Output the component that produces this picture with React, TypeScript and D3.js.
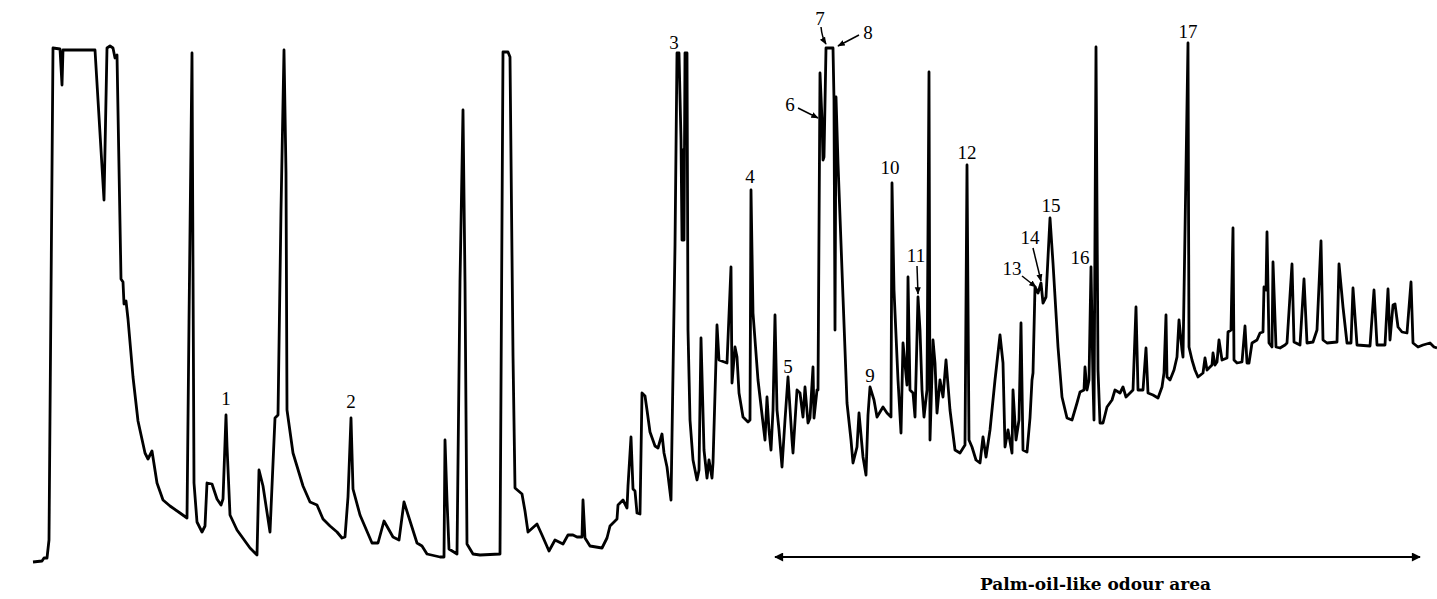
import React, { useEffect, useRef } from 'react';
import * as d3 from 'd3';

// gas chromatogram, retention in scan units, detector response in arbitrary units
const rt = [
  33, 42, 44, 47, 49, 53, 60, 62, 63, 95, 104, 107, 110, 113, 115, 117, 121, 123, 124, 126, 128, 133, 138, 145, 148, 152, 157, 163, 170, 180, 187,
  189, 192, 194, 197, 202, 205, 207, 212, 217, 221, 223, 226, 227, 230, 237, 250, 257, 259, 263, 270, 275, 278, 281, 284, 286, 287, 293, 303, 310, 317, 323, 330, 337, 342, 345,
  348, 351, 353, 360, 372, 378, 384, 393, 399, 404, 417, 422, 427, 440, 444, 445, 447, 449, 457, 460, 463, 465, 467, 473, 480, 500, 503, 508, 510, 513, 515, 522, 525, 528, 537, 542, 549, 555, 563, 568, 573, 577, 582, 583, 585, 590, 602, 607, 610, 617, 618, 623, 627, 628, 631, 633, 635, 637, 640, 642, 645, 647, 650, 655, 658, 662, 664, 667, 671,
  675, 677, 679, 681, 682, 683, 684, 685, 687, 688, 690, 693, 697, 699, 701, 704, 707, 709, 712, 713, 717, 719, 727, 731, 732, 735, 737, 739, 743, 748, 750, 751, 753, 758, 763, 765, 767, 769, 771, 773, 775, 777, 779, 782, 785, 788, 792, 793, 797, 800, 803, 805, 808, 810, 813, 814, 817, 818, 820, 822, 823, 824, 826, 833, 834, 835, 836, 838, 843, 847, 851, 853, 857, 859, 863, 866, 868, 870, 874, 877, 883, 887, 891, 892, 894, 898, 901, 903, 907, 908, 910, 913, 915, 918, 920, 922, 924, 927, 929, 930, 933, 935, 937, 940, 943, 946, 950, 955, 960, 965, 967, 969, 972, 976, 980, 983, 986, 990, 995, 1000, 1003, 1005, 1008, 1012, 1013, 1016, 1019, 1021, 1023, 1027, 1030, 1032, 1033, 1035, 1038, 1041, 1043, 1046, 1050, 1053, 1058, 1062, 1067, 1072, 1077, 1080, 1084, 1085, 1087, 1089, 1091, 1093, 1094, 1096, 1098, 1100, 1103, 1107, 1112, 1115, 1120, 1123, 1126, 1130, 1133, 1136, 1138, 1143, 1146, 1148, 1153, 1158, 1162, 1164, 1166, 1167, 1170, 1174, 1177, 1179, 1182, 1183, 1188, 1189, 1192, 1195, 1198, 1203, 1205, 1207, 1212, 1213, 1215, 1217, 1219, 1222, 1227, 1228, 1231, 1233, 1234, 1237, 1242, 1245, 1247, 1249, 1252, 1257, 1260, 1263, 1264, 1266, 1267, 1269, 1272, 1273, 1276, 1280, 1285, 1287, 1292, 1294, 1300, 1304, 1307, 1313, 1317, 1321, 1323, 1327, 1337, 1339, 1343, 1347, 1351, 1353, 1357, 1370, 1374, 1377, 1385, 1388, 1390, 1393, 1395, 1398, 1402, 1407, 1411, 1413, 1418, 1423, 1430, 1434, 1437,
];

const response = [
  38, 39, 42, 42, 60, 552, 551, 515, 550, 550, 400, 552, 554, 552, 542, 545, 321, 318, 296, 299, 281, 223, 179, 147, 141, 149, 117, 100, 94, 87, 82,
  278, 547, 117, 78, 68, 74, 117, 116, 101, 95, 101, 185, 154, 85, 70, 52, 45, 130, 114, 68, 182, 185, 390, 550, 427, 190, 147, 114, 98, 95, 81, 74, 68, 62, 63,
  103, 182, 111, 85, 57, 57, 79, 63, 60, 98, 57, 54, 46, 43, 43, 160, 100, 51, 46, 318, 490, 318, 56, 46, 45, 46, 548, 548, 543, 245, 112, 106, 89, 68, 76, 65, 49, 60, 56, 65, 65, 63, 63, 100, 62, 54, 52, 62, 74, 81, 95, 100, 92, 114, 163, 111, 109, 87, 86, 207, 204, 190, 168, 154, 152, 166, 147, 133, 100,
  354, 547, 547, 460, 360, 450, 360, 547, 547, 270, 180, 140, 120, 130, 262, 150, 122, 140, 122, 137, 275, 240, 237, 333, 217, 253, 243, 207, 183, 178, 180, 410, 287, 220, 177, 160, 203, 170, 150, 190, 285, 190, 170, 133, 180, 223, 160, 147, 210, 207, 183, 213, 177, 182, 233, 182, 210, 210, 527, 480, 440, 443, 552, 552, 500, 270, 503, 437, 303, 197, 160, 137, 153, 187, 143, 125, 185, 213, 200, 183, 193, 187, 183, 417, 310, 220, 167, 257, 215, 323, 210, 207, 183, 303, 270, 210, 183, 210, 528, 160, 260, 237, 187, 220, 203, 240, 190, 150, 147, 155, 435, 160, 153, 140, 137, 163, 143, 170, 220, 265, 237, 153, 170, 147, 210, 160, 180, 277, 150, 148, 182, 220, 227, 313, 307, 317, 297, 303, 382, 337, 253, 203, 182, 180, 197, 208, 210, 233, 210, 220, 333, 217, 180, 553, 230, 177, 177, 193, 200, 210, 207, 213, 203, 207, 210, 293, 210, 210, 252, 207, 205, 202, 213, 227, 285, 223, 220, 230, 243, 280, 250, 243, 557, 253, 240, 230, 223, 227, 242, 230, 235, 247, 235, 238, 260, 240, 242, 268, 270, 372, 240, 237, 238, 274, 237, 237, 257, 260, 267, 268, 313, 310, 368, 257, 253, 338, 253, 252, 255, 257, 336, 258, 255, 321, 257, 258, 270, 359, 260, 257, 258, 336, 293, 257, 257, 312, 255, 254, 310, 255, 255, 311, 260, 295, 296, 273, 268, 267, 318, 257, 253, 255, 257, 253, 252,
];

// peak numbers: label position, optional arrow (from -> to)
const peakLabels = ['1', '2', '3', '4', '5', '6', '7', '8', '9', '10', '11', '12', '13', '14', '15', '16', '17'];
const labelRt = [226, 351, 674, 750, 788, 790, 820, 868, 870, 890, 916, 967, 1012, 1030, 1051, 1080, 1188];
const labelResp = [202, 199, 558, 424, 234, 496, 582, 568, 225, 433, 345, 448, 332, 363, 395, 343, 569];
const arrows = [
  { id: '6', from: [798, 492], to: [818, 482], curve: false },
  { id: '7', from: [821, 573], to: [826, 556], curve: true },
  { id: '8', from: [859, 565], to: [838, 554], curve: false },
  { id: '11', from: [917, 334], to: [918, 306], curve: false },
  { id: '13', from: [1022, 324], to: [1036, 313], curve: false },
  { id: '14', from: [1033, 352], to: [1041, 319], curve: false },
];

const areaStart = 775;
const areaEnd = 1420;
const areaLevel = 43;
const areaLabel = 'Palm-oil-like odour area';

const W = 1437;
const H = 599;

const Chromatogram = () => {
  const svgRef = useRef(null);

  useEffect(() => {
    const svg = d3.select(svgRef.current);
    svg.selectAll('*').remove();

    const x = d3.scaleLinear().domain([0, 1437]).range([0, W]);
    const y = d3.scaleLinear().domain([0, 600]).range([600, 0]);

    const defs = svg.append('defs');
    defs.append('marker')
      .attr('id', 'tip')
      .attr('viewBox', '0 0 10 10')
      .attr('refX', 9).attr('refY', 5)
      .attr('markerWidth', 5).attr('markerHeight', 5)
      .attr('orient', 'auto')
      .append('path').attr('d', 'M0,1 L10,5 L0,9 Z').attr('fill', '#000');
    defs.append('marker')
      .attr('id', 'bigtip')
      .attr('viewBox', '0 0 10 10')
      .attr('refX', 9).attr('refY', 5)
      .attr('markerWidth', 18).attr('markerHeight', 9)
      .attr('markerUnits', 'userSpaceOnUse')
      .attr('orient', 'auto-start-reverse')
      .append('path').attr('d', 'M0,0 L10,5 L0,10 Z').attr('fill', '#000');

    const pts = rt.map((t, i) => [t, response[i]]);
    const line = d3.line().x((d) => x(d[0])).y((d) => y(d[1]));

    svg.append('path')
      .datum(pts)
      .attr('d', line)
      .attr('fill', 'none')
      .attr('stroke', '#000')
      .attr('stroke-width', 2.8)
      .attr('stroke-linejoin', 'round');

    // peak numbers
    svg.selectAll('.plabel')
      .data(peakLabels)
      .join('text')
      .attr('class', 'plabel')
      .attr('x', (d, i) => x(labelRt[i]))
      .attr('y', (d, i) => y(labelResp[i]))
      .attr('dy', '0.35em')
      .attr('text-anchor', 'middle')
      .attr('font-family', '"Liberation Serif", "DejaVu Serif", serif')
      .attr('font-size', 19)
      .text((d) => d);

    svg.selectAll('.parrow')
      .data(arrows)
      .join('path')
      .attr('class', 'parrow')
      .attr('d', (d) => {
        const [x0, y0] = [x(d.from[0]), y(d.from[1])];
        const [x1, y1] = [x(d.to[0]), y(d.to[1])];
        if (d.curve) return `M${x0},${y0} Q${x0 + 1},${(y0 + y1) / 2 + 2} ${x1},${y1}`;
        return `M${x0},${y0} L${x1},${y1}`;
      })
      .attr('fill', 'none')
      .attr('stroke', '#000')
      .attr('stroke-width', 1.5)
      .attr('marker-end', 'url(#tip)');

    // odour area
    svg.append('line')
      .attr('x1', x(areaStart)).attr('x2', x(areaEnd))
      .attr('y1', y(areaLevel)).attr('y2', y(areaLevel))
      .attr('stroke', '#000')
      .attr('stroke-width', 2)
      .attr('marker-start', 'url(#bigtip)')
      .attr('marker-end', 'url(#bigtip)');

    svg.append('text')
      .attr('x', x((areaStart + areaEnd) / 2 - 2))
      .attr('y', y(areaLevel - 33))
      .attr('text-anchor', 'middle')
      .attr('font-family', '"DejaVu Serif", "Liberation Serif", serif')
      .attr('font-weight', 'bold')
      .attr('font-size', 17)
      .text(areaLabel);
  }, []);

  return (
    <svg
      ref={svgRef}
      width={W}
      height={H}
      style={{ position: 'absolute', left: 0, top: 0, background: '#fff' }}
    />
  );
};

export default function App() {
  return <Chromatogram />;
}
